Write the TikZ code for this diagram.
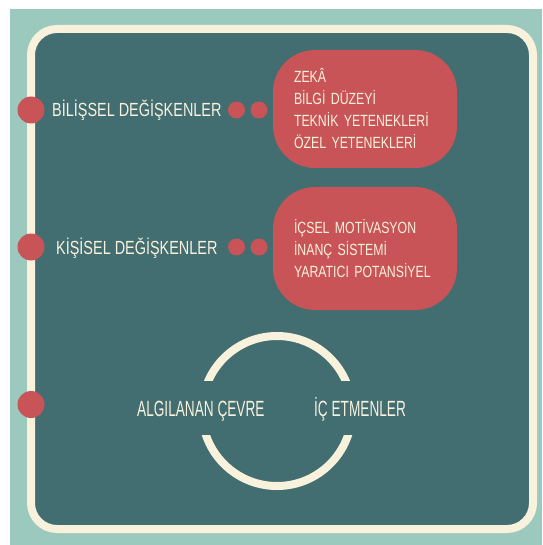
\documentclass[tikz,border=0pt]{standalone}
\usepackage{fontspec}
\newfontfamily\labfont{Liberation Sans}[FakeStretch=0.76]
\newfontfamily\ringfont{Liberation Sans}[FakeStretch=0.62]
\usetikzlibrary{positioning}
\definecolor{sea}{HTML}{9CC9BE}
\definecolor{cream}{HTML}{F8F2DC}
\definecolor{slate}{HTML}{426D71}
\definecolor{rose}{HTML}{C95457}
\tikzset{
  bigdot/.style={circle,fill=rose,inner sep=0pt,minimum size=27pt},
  smalldot/.style={circle,fill=rose,inner sep=0pt,minimum size=17pt},
  varlabel/.style={anchor=base west,text=cream,inner sep=0pt,font=\labfont\fontsize{19}{22}\selectfont},
  ringlabel/.style={anchor=base west,text=cream,inner sep=0pt,font=\ringfont\fontsize{22}{24}\selectfont},
  listbox/.style={rectangle,rounded corners=42pt,fill=rose,text=cream,align=left,
    text width=142pt,inner xsep=21pt,minimum width=184pt,
    font=\labfont\fontsize{16.2}{22}\selectfont}
}
\begin{document}
\begin{tikzpicture}[x=1pt,y=-1pt,line cap=butt]
\useasboundingbox (0,0) rectangle (542,545);

\fill[sea] (10,9) rectangle (542,545);
\draw[cream,line width=8pt,fill=slate,rounded corners=26pt] (31,29) rectangle (533,529);

% left markers
\node[bigdot] (m1) at (31,110) {};
\node[bigdot] (m2) at (31,247) {};
\node[bigdot] (m3) at (31,404.5) {};

% variables
\node[varlabel] (bilissel) at (52,117) {BİLİŞSEL DEĞİŞKENLER};
\node[smalldot] (b1) at (236.5,110) {};
\node[smalldot] (b2) at (259,110) {};
\node[listbox,minimum height=118pt] (bilkutu) at (365,109)
  {ZEKÂ\\BİLGİ DÜZEYİ\\TEKNİK YETENEKLERİ\\ÖZEL YETENEKLERİ};

\node[varlabel] (kisisel) at (56,254) {KİŞİSEL DEĞİŞKENLER};
\node[smalldot] (k1) at (236.5,247) {};
\node[smalldot] (k2) at (259,247) {};
\node[listbox,minimum height=123pt] (kiskutu) at (365,248.5)
  {İÇSEL MOTİVASYON\\İNANÇ SİSTEMİ\\YARATICI POTANSİYEL};

% cycle
\begin{scope}
  \clip (180,320) rectangle (370,380);
  \draw[cream,line width=8pt] (277,411) circle (75);
\end{scope}
\begin{scope}
  \clip (180,435) rectangle (370,500);
  \draw[cream,line width=8pt] (277,411) circle (75);
\end{scope}
\node[ringlabel] (cevre) at (137,416) {ALGILANAN ÇEVRE};
\node[ringlabel] (etmen) at (314,416) {İÇ ETMENLER};
\end{tikzpicture}
\end{document}
